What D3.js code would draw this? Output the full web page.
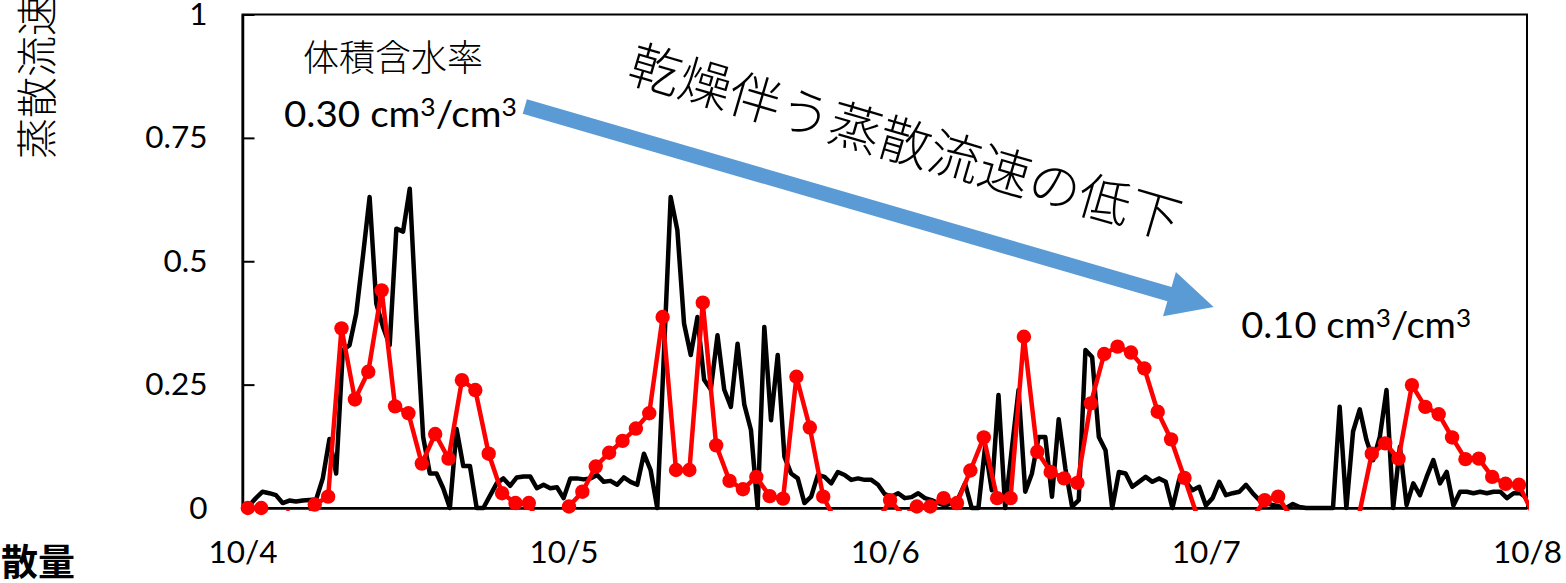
<!DOCTYPE html>
<html>
<head>
<meta charset="utf-8">
<script src="https://cdn.jsdelivr.net/npm/d3@7"></script>
<style>
  html, body { margin: 0; padding: 0; background: #fff; }
  svg { display: block; }
</style>
</head>
<body>
<svg id="chart" width="1566" height="583"></svg>
<script>
// Sap flow velocity, 10/4 – 10/8
// black: 30-minute readings, red: hourly readings (first reading 0:24)
const dayLabels = ["10/4", "10/5", "10/6", "10/7", "10/8"];
const yTickValues = [0, 0.25, 0.5, 0.75, 1];
const yTickLabels = ["0", "0.25", "0.5", "0.75", "1"];

const blackStepHours = 0.5;
const blackValues = [
  // 10/4
  0.000, 0.005, 0.020, 0.033, 0.030, 0.026, 0.010, 0.015, 0.013, 0.015, 0.016, 0.017,
  0.060, 0.140, 0.070, 0.320, 0.330, 0.394, 0.510, 0.630, 0.414, 0.367, 0.330, 0.566,
  0.560, 0.647, 0.380, 0.144, 0.070, 0.070, 0.040, 0.000, 0.160, 0.085, 0.085, 0.000,
  0.000, 0.025, 0.050, 0.060, 0.045, 0.062, 0.064, 0.064, 0.040, 0.047, 0.040, 0.042,
  // 10/5
  0.020, 0.060, 0.060, 0.058, 0.060, 0.067, 0.053, 0.055, 0.047, 0.062, 0.053, 0.047,
  0.110, 0.077, 0.000, 0.315, 0.630, 0.563, 0.374, 0.310, 0.387, 0.260, 0.240, 0.350,
  0.240, 0.205, 0.333, 0.210, 0.158, 0.000, 0.367, 0.178, 0.310, 0.104, 0.070, 0.060,
  0.010, 0.023, 0.067, 0.063, 0.050, 0.073, 0.067, 0.057, 0.060, 0.057, 0.057, 0.047,
  // 10/6
  0.028, 0.023, 0.030, 0.020, 0.022, 0.030, 0.020, 0.016, 0.010, 0.005, 0.010, 0.020,
  0.050, 0.000, 0.000, 0.124, 0.036, 0.229, 0.000, 0.120, 0.239, 0.033, 0.070, 0.144,
  0.144, 0.023, 0.180, 0.080, 0.003, 0.016, 0.320, 0.306, 0.144, 0.117, 0.000, 0.073,
  0.070, 0.043, 0.053, 0.063, 0.053, 0.060, 0.053, 0.000, 0.057, 0.053, 0.036, 0.043,
  // 10/7
  0.005, 0.020, 0.053, 0.026, 0.030, 0.033, 0.047, 0.030, 0.016, 0.010, 0.006, 0.003,
  0.000, 0.008, 0.002, 0.000, 0.000, 0.000, 0.000, 0.000, 0.205, 0.000, 0.155, 0.200,
  0.138, 0.097, 0.144, 0.239, 0.000, 0.124, 0.006, 0.050, 0.026, 0.063, 0.097, 0.050,
  0.073, 0.005, 0.033, 0.033, 0.030, 0.033, 0.030, 0.033, 0.033, 0.020, 0.030, 0.030,
  // 10/8 0:00
  0.020
];

const redStepHours = 1;
const redStartHour = 0.4;
const redValues = [
  // 10/4
  0.000, 0.000, -0.030, -0.008, -0.040, 0.007, 0.023, 0.364, 0.220, 0.276, 0.441, 0.206,
  0.192, 0.090, 0.150, 0.100, 0.259, 0.239, 0.110, 0.030, 0.010, 0.010, -0.050, -0.040,
  // 10/5
  0.003, 0.033, 0.084, 0.112, 0.136, 0.161, 0.192, 0.387, 0.077, 0.077, 0.416, 0.127,
  0.055, 0.038, 0.063, 0.024, 0.019, 0.266, 0.163, 0.023, -0.030, -0.060, -0.050, -0.030,
  // 10/6
  0.016, -0.016, 0.003, 0.003, 0.020, 0.010, 0.076, 0.143, 0.020, 0.020, 0.347, 0.114,
  0.073, 0.060, 0.051, 0.212, 0.312, 0.327, 0.315, 0.283, 0.195, 0.139, 0.061, -0.020,
  // 10/7
  -0.050, -0.060, -0.050, -0.024, 0.016, 0.023, -0.020, -0.050, -0.060, -0.060, -0.050, -0.020,
  0.110, 0.131, 0.100, 0.249, 0.205, 0.190, 0.143, 0.099, 0.100, 0.063, 0.049, 0.047,
  // 10/8
  -0.010
];

// soil volumetric water content at the start and end of the period
const moistureTitle = "体積含水率";
const moistureStart = "0.30";
const moistureEnd = "0.10";
const trendLabel = "乾燥伴う蒸散流速の低下";
const yTitle = "蒸散流速";
const cornerLabel = "散量";

// ---- layout ----
const plot = { left: 242.5, right: 1527, top: 14.5, bottom: 508 };
const totalHours = 96;

const x = d3.scaleLinear().domain([0, totalHours]).range([plot.left, plot.right]);
const y = d3.scaleLinear().domain([0, 1]).range([plot.bottom, plot.top]);

const svg = d3.select("#chart");
const latin = "Lato, 'Open Sans', sans-serif";
const cjk = "'Noto Sans CJK JP', 'Noto Sans CJK SC', sans-serif";

svg.append("defs").append("clipPath").attr("id", "plotClip")
  .append("rect")
  .attr("x", plot.left).attr("y", plot.top - 2)
  .attr("width", plot.right - plot.left + 2)
  .attr("height", plot.bottom - plot.top + 5);

// plot frame
svg.append("rect")
  .attr("x", plot.left).attr("y", plot.top)
  .attr("width", plot.right - plot.left).attr("height", plot.bottom - plot.top)
  .attr("fill", "none").attr("stroke", "#000").attr("stroke-width", 2);

// y axis with inside ticks
const yAxis = d3.axisLeft(y)
  .tickValues(yTickValues)
  .tickFormat((d, i) => yTickLabels[i])
  .tickSizeInner(-12).tickSizeOuter(0).tickPadding(35);
const gy = svg.append("g").attr("transform", `translate(${plot.left},0)`).call(yAxis);
gy.select(".domain").attr("stroke", "#000").attr("stroke-width", 2.5);
gy.selectAll(".tick line").attr("stroke", "#000").attr("stroke-width", 2);
gy.selectAll(".tick text").attr("font-family", latin).attr("font-size", 31.5).attr("fill", "#000");

// x axis: day labels only
const xAxis = d3.axisBottom(x)
  .tickValues(dayLabels.map((d, i) => i * 24))
  .tickFormat((d, i) => dayLabels[i])
  .tickSize(0).tickPadding(33);
const gx = svg.append("g").attr("transform", `translate(0,${plot.bottom})`).call(xAxis);
gx.select(".domain").attr("stroke", "#000").attr("stroke-width", 2.5);
gx.selectAll(".tick text").attr("font-family", latin).attr("font-size", 31.5).attr("fill", "#000");

// series
const blackData = blackValues.map((v, i) => ({ t: i * blackStepHours, v }));
const redData = redValues.map((v, i) => ({ t: redStartHour + i * redStepHours, v }));

const line = d3.line().x(d => x(d.t)).y(d => y(d.v));

const series = svg.append("g").attr("clip-path", "url(#plotClip)");
series.append("path").datum(blackData)
  .attr("d", line).attr("fill", "none")
  .attr("stroke", "#000").attr("stroke-width", 4.5)
  .attr("stroke-linejoin", "round");
series.append("path").datum(redData)
  .attr("d", line).attr("fill", "none")
  .attr("stroke", "#ff0000").attr("stroke-width", 4.5)
  .attr("stroke-linejoin", "round");

// markers only for readings inside the axis range
svg.append("g").selectAll("circle")
  .data(redData.filter(d => d.v >= 0 && d.t <= totalHours))
  .join("circle")
  .attr("cx", d => x(d.t)).attr("cy", d => y(d.v))
  .attr("r", 7.2).attr("fill", "#ff0000");

// ---- annotations (placed in chart units: [hour, value]) ----
const arrowFrom = [21.1, 0.8136];
const arrowTo = [72.58, 0.4073];

(function drawArrow() {
  const p0 = [x(arrowFrom[0]), y(arrowFrom[1])];
  const p1 = [x(arrowTo[0]), y(arrowTo[1])];
  const dx = p1[0] - p0[0], dy = p1[1] - p0[1];
  const len = Math.hypot(dx, dy);
  const u = [dx / len, dy / len];
  const n = [-u[1], u[0]];
  const shaft = 7.5, headHalf = 23, headLen = 46;
  const h = [p1[0] - u[0] * headLen, p1[1] - u[1] * headLen];
  const pt = (b, s) => [b[0] + n[0] * s, b[1] + n[1] * s];
  const pts = [pt(p0, shaft), pt(h, shaft), pt(h, headHalf), p1, pt(h, -headHalf), pt(h, -shaft), pt(p0, -shaft)];
  svg.append("polygon")
    .attr("points", pts.map(p => p.join(",")).join(" "))
    .attr("fill", "#5b9bd5");
})();

// stretch a text horizontally to a given width, keeping its left edge
function fitWidth(text, target) {
  const w = text.node().getBBox().width;
  text.attr("transform", `scale(${target / w},1)`);
}

function moistureText(hour, value, label, width) {
  const g = svg.append("g").attr("transform", `translate(${x(hour)},${y(value)})`);
  const t = g.append("text")
    .attr("font-family", latin).attr("font-size", 36.5).attr("fill", "#000");
  t.append("tspan").text(`${label} cm`);
  t.append("tspan").attr("font-size", 25).attr("dy", -11).text("3");
  t.append("tspan").attr("dy", 11).text("/cm");
  t.append("tspan").attr("font-size", 25).attr("dy", -11).text("3");
  fitWidth(t, width);
}

svg.append("text")
  .attr("x", x(11.24)).attr("y", y(0.918))
  .attr("text-anchor", "middle").attr("dominant-baseline", "central")
  .attr("font-family", cjk).attr("font-weight", 300).attr("font-size", 36)
  .attr("fill", "#000").text(moistureTitle);

moistureText(3.10, 0.772, moistureStart, 233);
moistureText(74.64, 0.3435, moistureEnd, 230);

const trendAngle = Math.atan2(y(arrowTo[1]) - y(arrowFrom[1]), x(arrowTo[0]) - x(arrowFrom[0])) * 180 / Math.PI;
svg.append("text")
  .attr("transform", `translate(${x(49.6)},${y(0.748)}) rotate(${trendAngle})`)
  .attr("text-anchor", "middle").attr("dominant-baseline", "central")
  .attr("font-family", cjk).attr("font-weight", 300).attr("font-size", 52)
  .attr("fill", "#000").text(trendLabel);

// y-axis title, running upward from below the 0.75 label
svg.append("text")
  .attr("transform", "translate(52,159) rotate(-90)")
  .attr("font-family", cjk).attr("font-weight", 300).attr("font-size", 41)
  .attr("fill", "#000").text(yTitle);

// label at the lower-left corner
svg.append("text")
  .attr("x", 1).attr("y", 576)
  .attr("font-family", cjk).attr("font-weight", 700).attr("font-size", 37)
  .attr("fill", "#000").text(cornerLabel);
</script>
</body>
</html>
